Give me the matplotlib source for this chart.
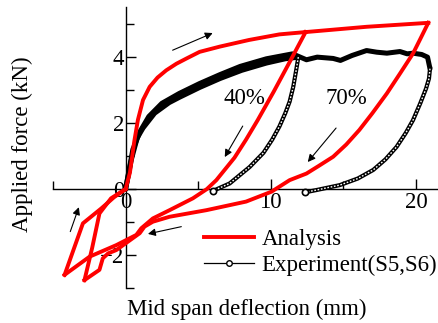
import matplotlib
matplotlib.use('Agg')
import matplotlib.pyplot as plt
from matplotlib.lines import Line2D
from matplotlib.ticker import MultipleLocator

plt.rcParams['font.family'] = ['Liberation Serif', 'DejaVu Serif']
plt.rcParams['font.size'] = 16.5

# analysis (red): loading envelope, 40% unload/reload, 70% load/unload/reload
red_env_x = [0, 0.3, 0.6, 0.85, 1.2, 1.66, 2.2, 2.8, 3.5, 4.2, 5.1, 6.5, 8.5, 10.6, 12.4]
red_env_y = [0, 0.5, 1.45, 2.1, 2.7, 3.1, 3.38, 3.6, 3.8, 3.96, 4.16, 4.32, 4.52, 4.69, 4.76]
red_un40_x = [12.4, 11.3, 10.2, 9.1, 8.3, 7.5, 6.25, 5.6, 4.64, 3.03, 1.88, 1.08, 0.74, -0.64, -2.48, -4.2]
red_un40_y = [4.76, 3.85, 2.95, 2.09, 1.5, 0.95, 0.27, 0.0, -0.28, -0.64, -0.89, -1.19, -1.39, -1.7, -2.05, -2.6]
red_re40_x = [-4.2, -2.94, -1.68, -0.8, 0]
red_re40_y = [-2.6, -1.04, -0.59, -0.25, 0]
red_ld70_x = [12.4, 16.6, 20.85]
red_ld70_y = [4.76, 4.92, 5.04]
red_un70_x = [20.85, 20.3, 19.8, 18.9, 18.0, 17.0, 16.1, 15.2, 14.3, 13.3, 12.46, 11.3, 10.05, 8.3,
              5.57, 3.03, 1.88, 1.3, 0.97, -0.64, -1.2, -1.57, -1.8, -2.83]
red_un70_y = [5.04, 4.55, 4.11, 3.5, 2.9, 2.3, 1.79, 1.35, 0.98, 0.7, 0.47, 0.27, -0.08, -0.38,
              -0.64, -0.84, -0.99, -1.14, -1.34, -1.85, -1.95, -2.1, -2.45, -2.76]
red_re70_x = [-2.83, -2.3, -1.8, -1.0, 0]
red_re70_y = [-2.76, -1.78, -0.74, -0.28, 0]

# experiment (black)
exp_ld40_x = [0, 0.4, 0.8, 1.2, 2.0, 3.0, 3.7, 5.1, 6.5, 8.0, 9.7, 11.0, 11.9]
exp_ld40_y = [0, 0.9, 1.55, 1.85, 2.3, 2.62, 2.78, 3.08, 3.35, 3.6, 3.82, 3.95, 4.0]
exp_un40_x = [11.9, 11.75, 11.55, 11.3, 11.0, 10.6, 10.1, 9.5, 8.55, 7.17, 6.0]
exp_un40_y = [4.0, 3.6, 3.1, 2.65, 2.3, 1.9, 1.5, 1.1, 0.67, 0.17, -0.06]
exp_ld70_x = [0, 0.5, 1.0, 1.6, 2.5, 3.7, 5.1, 6.5, 7.9, 9.7, 11.5, 12.46, 13.2, 14.3, 14.8,
              15.6, 16.6, 17.3, 18.0, 18.9, 19.4, 19.8, 20.4, 20.8, 20.97]
exp_ld70_y = [0, 1.2, 1.75, 2.2, 2.6, 2.9, 3.2, 3.47, 3.72, 3.95, 4.1, 3.92, 4.0, 3.96, 3.9,
              4.05, 4.2, 4.15, 4.12, 4.17, 4.1, 4.12, 4.08, 4.0, 3.65]
exp_un70_x = [20.97, 20.9, 20.7, 20.3, 19.8, 19.3, 18.67, 17.9, 17.06, 16.0, 14.76, 13.15, 12.35]
exp_un70_y = [3.65, 3.35, 3.05, 2.6, 2.09, 1.7, 1.28, 0.9, 0.58, 0.32, 0.12, -0.03, -0.1]

fig = plt.figure(figsize=(4.39, 3.23), dpi=100)
W, H = 439, 323
ax = fig.add_axes([53 / W, (H - 288) / H, (W - 53) / W, (288 - 7) / H])
ax.set_xlim(-5, 21.59)
ax.set_ylim(-3, 5.52)

# experiment: thick loading bands, "chain of circles" unloading
for xs, ys in [(exp_ld40_x, exp_ld40_y), (exp_ld70_x, exp_ld70_y)]:
    ax.plot(xs, ys, color='black', lw=3.6, solid_capstyle='round', solid_joinstyle='round', zorder=3)
for xs, ys in [(exp_un40_x, exp_un40_y), (exp_un70_x, exp_un70_y)]:
    ax.plot(xs, ys, color='black', lw=3.0, solid_joinstyle='round', zorder=3)
    ax.plot(xs, ys, color='white', lw=1.0, ls=(0, (1.2, 1.2)), zorder=3)
    ax.plot(xs[-1], ys[-1], 'o', ms=4.5, mfc='white', mec='black', mew=1.2, zorder=4)

# analysis
for xs, ys in [(red_env_x, red_env_y), (red_un40_x, red_un40_y), (red_re40_x, red_re40_y),
               (red_ld70_x, red_ld70_y), (red_un70_x, red_un70_y), (red_re70_x, red_re70_y)]:
    ax.plot(xs, ys, color='red', lw=2.8, solid_joinstyle='round', zorder=5)

# spines through origin
for s in ['top', 'right']:
    ax.spines[s].set_visible(False)
ax.spines['left'].set_position(('data', 0))
ax.spines['bottom'].set_position(('data', 0))
ax.spines['left'].set_linewidth(1.0)
ax.spines['bottom'].set_linewidth(1.0)

ax.xaxis.set_major_locator(MultipleLocator(10))
ax.xaxis.set_minor_locator(MultipleLocator(5))
ax.yaxis.set_major_locator(MultipleLocator(2))
ax.yaxis.set_minor_locator(MultipleLocator(1))
ax.tick_params(which='both', direction='in', width=1.0)
ax.tick_params(which='major', length=7)
ax.tick_params(which='minor', length=6)
ax.tick_params(axis='x', pad=2)
ax.tick_params(axis='y', pad=1)

# annotations
ax.text(8.2, 2.76, '40%', ha='center', va='center')
ax.text(15.2, 2.76, '70%', ha='center', va='center')
arrows = [((3.24, 4.21), (6.0, 4.73)), ((8.07, 1.91), (6.83, 0.97)), ((14.5, 1.85), (12.55, 0.82)),
          ((3.84, -1.14), (1.54, -1.36)), ((-3.81, -1.29), (-3.22, -0.55))]
for start, end in arrows:
    ax.annotate('', xy=end, xytext=start,
                arrowprops=dict(arrowstyle='-|>', color='black', lw=0.8, mutation_scale=11,
                                shrinkA=0, shrinkB=0))

handles = [Line2D([], [], color='red', lw=2.8),
           Line2D([], [], color='black', lw=0.9, marker='o', ms=4, mfc='white', mec='black')]
fig.legend(handles, ['Analysis', 'Experiment(S5,S6)'], loc='upper left',
           bbox_to_anchor=(204 / W, 1 - 229 / H), frameon=False, borderpad=0,
           handlelength=2.2, handletextpad=0.3, labelspacing=0.2, borderaxespad=0)

fig.text(247 / W, 1 - 309 / H, 'Mid span deflection (mm)', ha='center', va='center')
fig.text(22 / W, 1 - 144 / H, 'Applied force (kN)', ha='center', va='center', rotation=90)

fig.savefig('out.png', dpi=100)
